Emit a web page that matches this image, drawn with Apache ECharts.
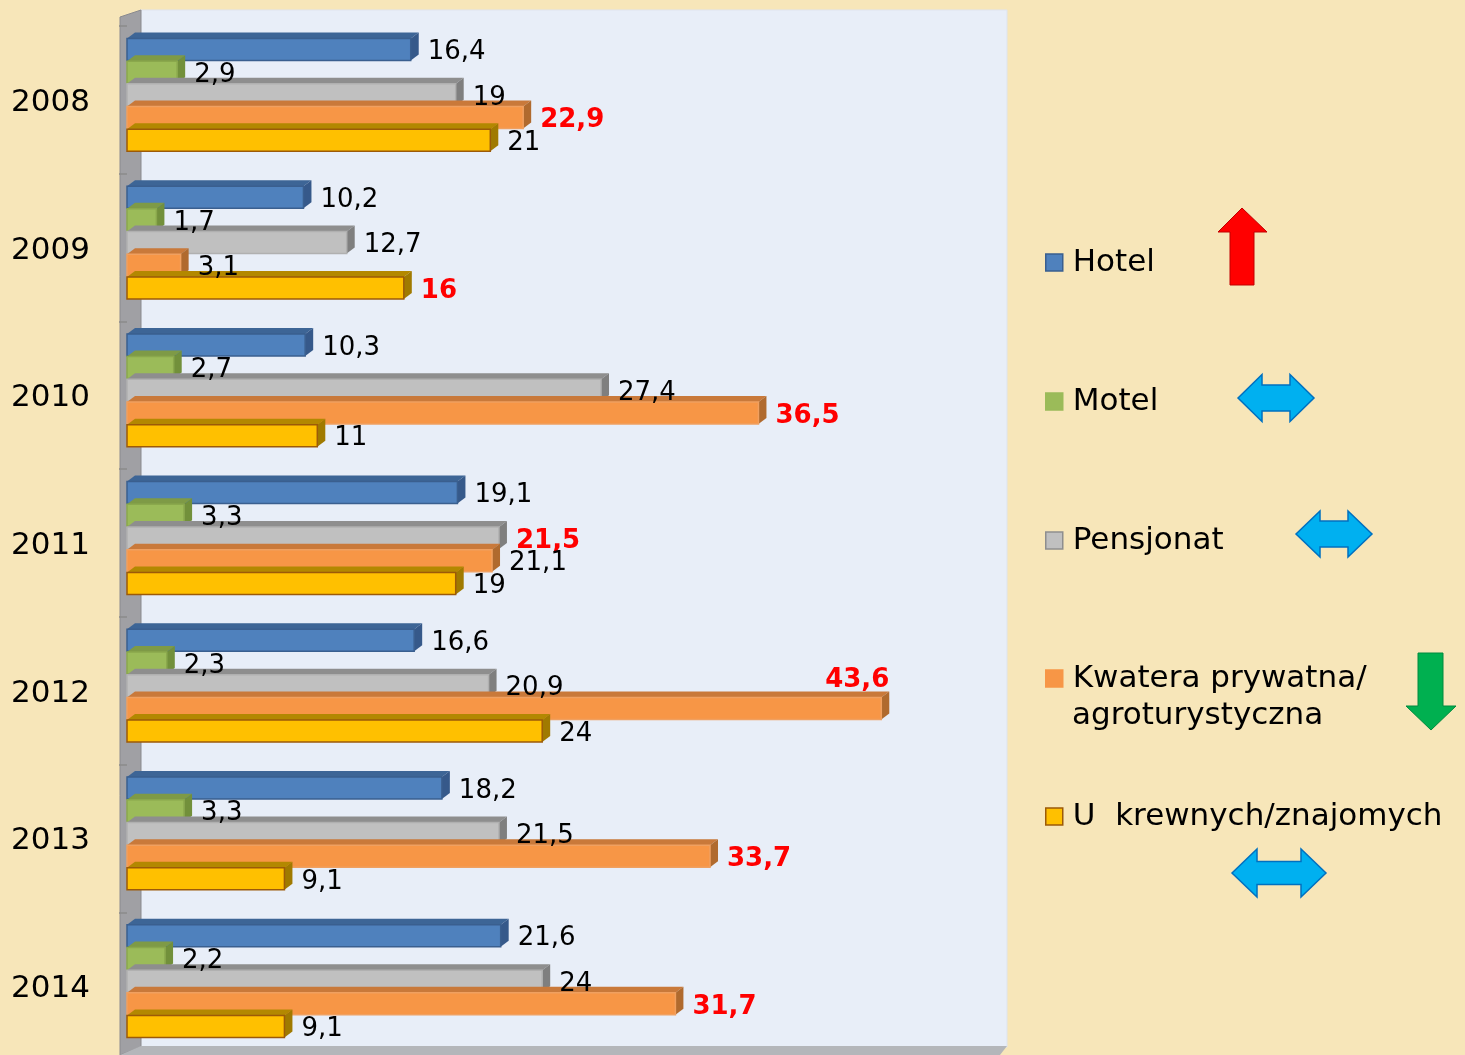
<!DOCTYPE html>
<html>
<head>
<meta charset="utf-8">
<script src="https://cdn.jsdelivr.net/npm/echarts@6/dist/echarts.min.js"></script>
<style>
    html, body { margin: 0; padding: 0; background: #f7e6b9; }
    #chart { width: 1465px; height: 1055px; }
</style>
</head>
<body>
<div id="chart"></div>
<script>
    // data
    const years = ['2008', '2009', '2010', '2011', '2012', '2013', '2014'];
    const seriesNames = ['Hotel', 'Motel', 'Pensjonat', 'Kwatera prywatna/agroturystyczna', 'U  krewnych/znajomych'];
    const hotel = [16.4, 10.2, 10.3, 19.1, 16.6, 18.2, 21.6];
    const motel = [2.9, 1.7, 2.7, 3.3, 2.3, 3.3, 2.2];
    const pensjonat = [19, 12.7, 27.4, 21.5, 20.9, 21.5, 24];
    const kwatera = [22.9, 3.1, 36.5, 21.1, 43.6, 33.7, 31.7];
    const krewni = [21, 16, 11, 19, 24, 9.1, 9.1];

    const allValues = [hotel, motel, pensjonat, kwatera, krewni];

    // colours: front, top, side, border
    const faces = [
        ['#4f81bd', '#3d6596', '#36598a', '#3a5f8f'],
        ['#9bbb59', '#7e9a46', '#72903b', '#8aa84c'],
        ['#c0c0c0', '#8e8e8e', '#7f7f7f', '#b0b0b0'],
        ['#f79646', '#c9793a', '#b06a2e', '#f0a060'],
        ['#ffc000', '#b38800', '#a07a00', '#9c5a08']
    ];

    const globalMax = Math.max.apply(null, kwatera.concat(hotel, motel, pensjonat, krewni));
    const catMax = years.map((y, i) => Math.max(hotel[i], motel[i], pensjonat[i], kwatera[i], krewni[i]));

    const fmt = v => String(v).replace('.', ',');

    function renderBar(params, api) {
        const s = params.seriesIndex;
        const val = api.value(0);
        const cat = api.value(1);
        const p0 = api.coord([0, cat]);
        const p1 = api.coord([val, cat]);
        const c = faces[s];
        const h = 22, dx = 8, dy = 6;
        const cy = p0[1] - 5 + (s - 2) * 22.7;
        const x0 = p0[0], x1 = p1[0];
        const y0 = cy - h / 2, y1 = cy + h / 2;
        const isMax = val === catMax[cat];
        const above = val === globalMax;
        const label = above ? {
            type: 'text', z2: 100,
            style: {
                x: x1 + dx, y: y0 - dy - 11, text: fmt(val), fill: '#ff0000',
                font: 'bold 26px "DejaVu Sans"', align: 'right', verticalAlign: 'middle'
            }
        } : {
            type: 'text', z2: 100,
            style: {
                x: x1 + dx + 9, y: cy + 3, text: fmt(val),
                fill: isMax ? '#ff0000' : '#000000',
                font: (isMax ? 'bold ' : '') + '26px "DejaVu Sans"',
                align: 'left', verticalAlign: 'middle'
            }
        };
        return {
            type: 'group',
            children: [
                {
                    type: 'polygon',
                    shape: { points: [[x0, y0], [x0 + dx, y0 - dy], [x1 + dx, y0 - dy], [x1, y0]] },
                    style: { fill: c[1] }
                },
                {
                    type: 'polygon',
                    shape: { points: [[x1, y0], [x1 + dx, y0 - dy], [x1 + dx, y1 - dy], [x1, y1]] },
                    style: { fill: c[2] }
                },
                {
                    type: 'rect',
                    shape: { x: x0, y: y0, width: x1 - x0, height: h },
                    style: { fill: c[0], stroke: c[3], lineWidth: 1.5 }
                },
                label
            ]
        };
    }

    function doubleArrow(x0, x1, cy, headW, headH, shaftH) {
        return [
            [x0, cy], [x0 + headW, cy - headH / 2], [x0 + headW, cy - shaftH / 2],
            [x1 - headW, cy - shaftH / 2], [x1 - headW, cy - headH / 2], [x1, cy],
            [x1 - headW, cy + headH / 2], [x1 - headW, cy + shaftH / 2],
            [x0 + headW, cy + shaftH / 2], [x0 + headW, cy + headH / 2]
        ];
    }

    const legendTops = [260, 399, 538, 676, 814];
    const legendBorders = ['#3a5f8f', '#9bbb59', '#8e8e8e', '#f79646', '#9c5a08'];

    const chart = echarts.init(document.getElementById('chart'));

    const option = {
        backgroundColor: '#f7e6b9',
        textStyle: { fontFamily: 'DejaVu Sans' },
        grid: { left: 127, top: 26, width: 865, height: 1034, outerBoundsMode: 'none', containLabel: false },
        xAxis: { type: 'value', min: 0, max: 50, show: false },
        yAxis: {
            type: 'category',
            inverse: true,
            data: years,
            offset: 7,
            z: 5,
            axisLine: { show: false },
            axisTick: { show: true, length: 8, lineStyle: { color: '#8a8a8a', width: 1.5 } },
            axisLabel: {
                margin: 30,
                formatter: v => '{y|' + v + '}',
                rich: { y: { fontSize: 31, color: '#000', fontFamily: 'DejaVu Sans', padding: [6, 0, 0, 0] } }
            }
        },
        legend: seriesNames.map((n, i) => ({
            orient: 'vertical',
            left: 1040,
            top: legendTops[i] - 18,
            icon: 'rect',
            itemWidth: 17,
            itemHeight: 17,
            selectedMode: false,
            formatter: name => name === seriesNames[3] ? 'Kwatera prywatna/' : name,
            textStyle: { fontSize: 31, lineHeight: 31, color: '#000', fontFamily: 'DejaVu Sans', padding: [0, 0, 0, 5] },
            data: [{ name: n, itemStyle: { borderColor: legendBorders[i], borderWidth: 1.5 } }]
        })),
        graphic: [
            // back wall
            { type: 'rect', z: -10, shape: { x: 140, y: 10, width: 867, height: 1037 }, style: { fill: '#e8eef8', stroke: '#dfe4ee', lineWidth: 1 } },
            // left wall
            { type: 'polygon', z: -9, shape: { points: [[120, 17], [141, 10], [141, 1047], [120, 1055]] }, style: { fill: '#a0a0a4', stroke: '#8a8a8e', lineWidth: 1 } },
            // floor
            { type: 'polygon', z: -9, shape: { points: [[120, 1055], [141, 1046], [1007, 1046], [1000, 1055]] }, style: { fill: '#b4b6ba' } },
            // second line of legend text
            { type: 'text', z: 10, style: { x: 1072, y: 716, text: 'agroturystyczna', font: '31px "DejaVu Sans"', fill: '#000', verticalAlign: 'middle' } },
            // arrows
            { type: 'polygon', z: 10, shape: { points: [[1242, 208], [1267, 232], [1254, 232], [1254, 285], [1230, 285], [1230, 232], [1218, 232]] }, style: { fill: '#ff0000', stroke: '#c00000', lineWidth: 1 } },
            { type: 'polygon', z: 10, shape: { points: doubleArrow(1238, 1314, 398, 24, 47, 26) }, style: { fill: '#00b0f0', stroke: '#0070c0', lineWidth: 1.5 } },
            { type: 'polygon', z: 10, shape: { points: doubleArrow(1296, 1372, 534, 24, 46, 26) }, style: { fill: '#00b0f0', stroke: '#0070c0', lineWidth: 1.5 } },
            { type: 'polygon', z: 10, shape: { points: [[1418, 653], [1443, 653], [1443, 706], [1456, 706], [1431, 730], [1406, 706], [1418, 706]] }, style: { fill: '#00b050', stroke: '#008a3e', lineWidth: 1 } },
            { type: 'polygon', z: 10, shape: { points: doubleArrow(1232, 1326, 873, 25, 48, 23) }, style: { fill: '#00b0f0', stroke: '#0070c0', lineWidth: 1.5 } }
        ],
        series: allValues.map((vals, s) => ({
            name: seriesNames[s],
            type: 'custom',
            renderItem: renderBar,
            itemStyle: { color: faces[s][0] },
            encode: { x: 0, y: 1 },
            data: vals.map((v, i) => [v, i]),
            animation: false
        }))
    };

    chart.setOption(option);
</script>
</body>
</html>
